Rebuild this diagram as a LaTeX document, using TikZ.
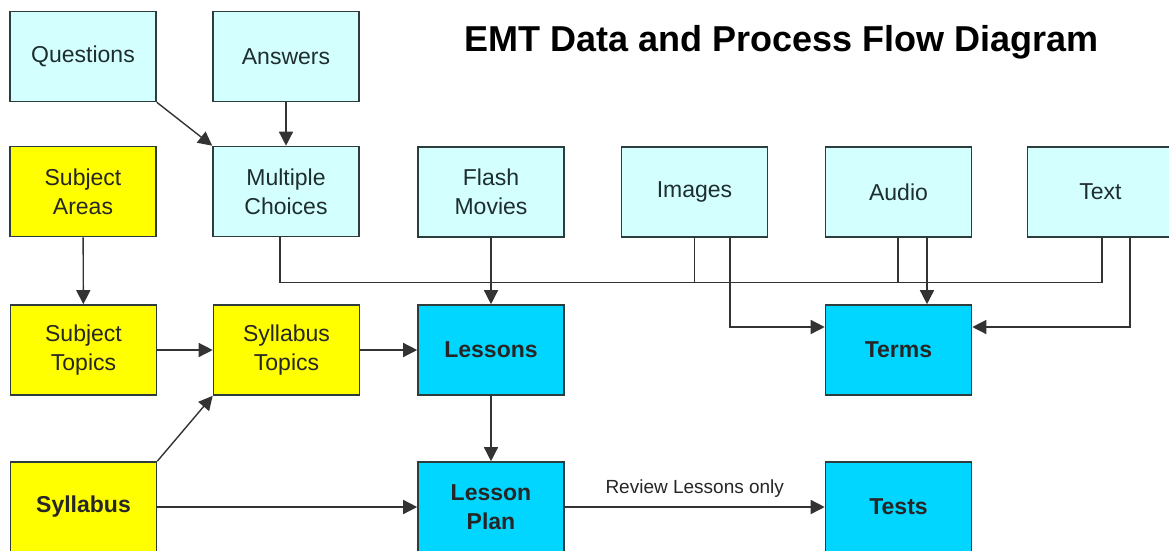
\documentclass[tikz,border=0pt]{standalone}
\usepackage{fontspec}
\setmainfont{Liberation Sans}
\usetikzlibrary{arrows.meta}
\definecolor{paleblue}{RGB}{212,255,255}
\definecolor{brightblue}{RGB}{0,214,255}
\definecolor{sunyellow}{RGB}{255,255,0}
\definecolor{edgegray}{RGB}{45,60,60}
\definecolor{inkgray}{RGB}{30,45,45}
\tikzset{
  box/.style={draw=edgegray, line width=1.6pt, minimum width=146pt, minimum height=90pt,
    inner sep=0pt, align=center, text=inkgray,
    font=\fontsize{23}{29}\selectfont},
  mediabox/.style={box, fill=paleblue},
  topicbox/.style={box, fill=sunyellow, text=black!85},
  corebox/.style={box, fill=brightblue, text=black!85, font=\fontsize{23}{29}\selectfont\bfseries},
  link/.style={draw=black!80, line width=1.4pt},
  flow/.style={link, -{Triangle[length=14pt,width=14pt]}},
}
\begin{document}
\begin{tikzpicture}[x=1pt,y=-1pt]
\useasboundingbox[fill=white] (0,0) rectangle (1169,550);

% title
\node (title) at (781.5,42) {\fontsize{36}{40}\selectfont\bfseries EMT Data and Process Flow Diagram};

% content sources
\node[mediabox] (questions) at (83,56.5) {Questions};
\node[mediabox] (answers)   at (286,56.5) {Answers};
\node[mediabox] (choices)   at (286,191.5) {Multiple\\Choices};
\node[mediabox] (flash)     at (491,192) {Flash\\Movies};
\node[mediabox] (images)    at (694.5,192) {Images};
\node[mediabox] (audio)     at (898.5,192) {Audio};
\node[mediabox] (text)      at (1100.5,192) {Text};

% subject structure
\node[topicbox] (areas)    at (83,191.5) {Subject\\Areas};
\node[topicbox] (subtopics) at (83.5,350) {Subject\\Topics};
\node[topicbox] (syltopics) at (286.5,350) {Syllabus\\Topics};
\node[topicbox, font=\fontsize{23}{29}\selectfont\bfseries] (syllabus) at (83.5,507) {Syllabus};

% products
\node[corebox] (lessons) at (491,350) {Lessons};
\node[corebox] (terms)   at (898.5,350) {Terms};
\node[corebox] (plan)    at (491,507) {Lesson\\Plan};
\node[corebox] (tests)   at (898.5,507) {Tests};

% question bank
\draw[flow] (questions.south east) -- (choices.north west);
\draw[flow] (answers) -- (choices);

% shared media bus feeding the lessons
\draw[link] ([xshift=-6pt]choices.south) -- ++(0,45) -| ([xshift=1.5pt]text.south);
\draw[link] (images.south) -- ++(0,45);
\draw[link] ([xshift=-0.5pt]audio.south) -- ++(0,45);
\draw[flow] (flash) -- (lessons);

% media feeding the terms
\draw[flow] ([xshift=35.5pt]images.south) |- ([yshift=23pt]terms.west);
\draw[flow] ([xshift=28.5pt]audio.south) -- ([xshift=28.5pt]terms.north);
\draw[flow] ([xshift=29.5pt]text.south) |- ([yshift=23pt]terms.east);

% syllabus chain
\draw[flow] (areas) -- (subtopics);
\draw[flow] (subtopics) -- (syltopics);
\draw[flow] (syltopics) -- (lessons);
\draw[flow] (syllabus.north east) -- (syltopics.south west);
\draw[flow] (syllabus) -- (plan);
\draw[flow] (lessons) -- (plan);
\draw[flow] (plan) -- node[above=6pt, text=black!85, font=\fontsize{19}{22}\selectfont] (review) {Review Lessons only} (tests);
\end{tikzpicture}
\end{document}
